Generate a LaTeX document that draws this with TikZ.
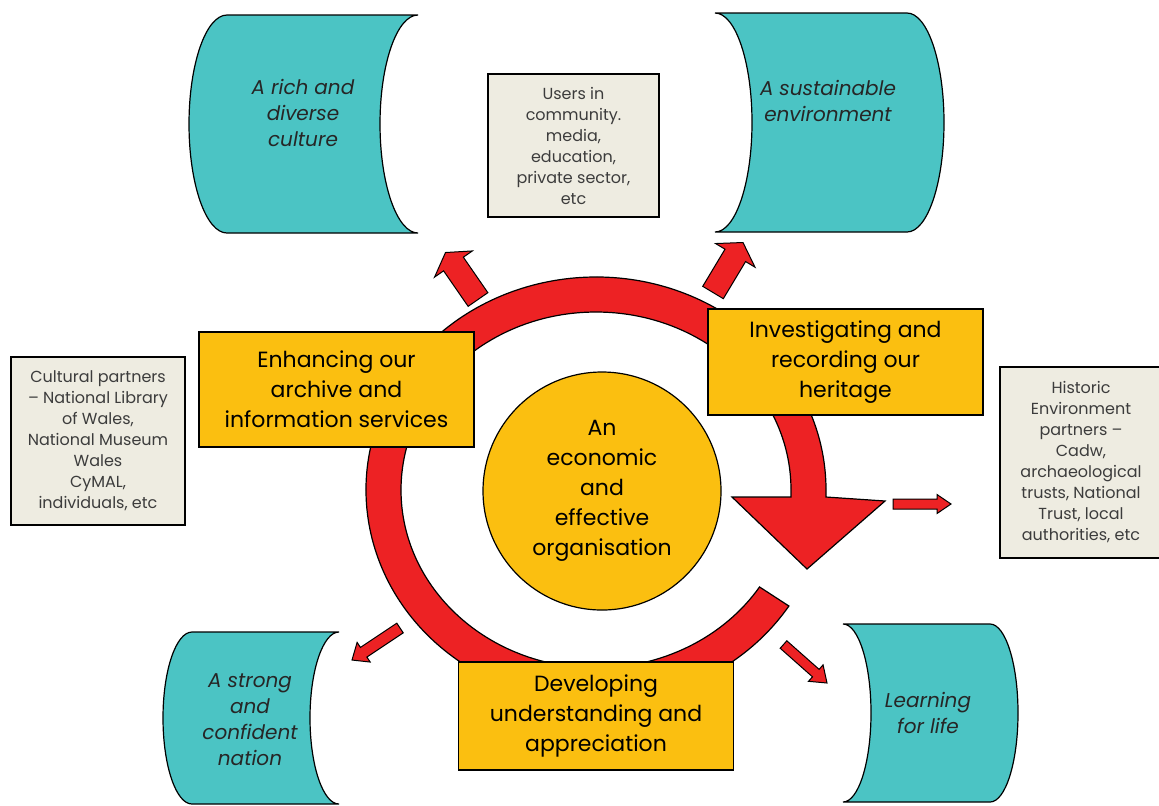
\documentclass[tikz,border=0pt]{standalone}
\usepackage{fontspec}
\setmainfont{Poppins}
\usetikzlibrary{calc}
\definecolor{scrollteal}{RGB}{75,196,196}
\definecolor{boxyellow}{RGB}{251,191,16}
\definecolor{ringred}{RGB}{237,34,36}
\definecolor{notegrey}{RGB}{238,236,225}
\definecolor{notetext}{RGB}{60,60,60}
\tikzset{
    ring/.style = {draw=black, line width=0.6pt, fill=ringred, line join=miter},
    redarrow/.style = {draw=black, line width=0.5pt, fill=ringred, line join=miter},
    scroll/.style = {draw=black, line width=0.6pt, fill=scrollteal},
    scrolltext/.style = {align=center, text=black!85, font=\itshape\fontsize{10}{13}\selectfont},
    theme/.style = {rectangle, draw=black, line width=0.6pt, fill=boxyellow, minimum width=137.5pt, align=center, font=\fontsize{11}{15}\selectfont},
    hub/.style = {circle, draw=black, line width=0.6pt, fill=boxyellow, minimum size=119pt, inner sep=0pt, align=center, font=\fontsize{11}{15}\selectfont},
    partner/.style = {rectangle, draw=black, line width=0.6pt, fill=notegrey, text=notetext, align=center, inner sep=0pt, font=\fontsize{8}{10.5}\selectfont}
}
% block arrow: shaft half width, head half width, head length, tail, tip
\newcommand{\blockarrow}[5]{%
  \coordinate (hb) at ($(#5)!#3!(#4)$);
  \draw[redarrow] ($(#4)!#1!90:(#5)$) -- ($(hb)!#1!-90:(#4)$) -- ($(hb)!#2!-90:(#4)$) -- (#5)
    -- ($(hb)!#2!90:(#4)$) -- ($(hb)!#1!90:(#4)$) -- ($(#4)!#1!-90:(#5)$) -- cycle;
}
\begin{document}
\begin{tikzpicture}[x=0.5pt, y=-0.5pt]
\useasboundingbox (0,0) rectangle (1159,805);
%
% ring with its arrow head
\draw[ring] (596,490) ++(33:230 and 213) arc[start angle=33, end angle=360, x radius=230, y radius=213]
  -- (826,497) -- (885,501) -- (807,569) -- (732,497) -- (791,497) -- (791,490)
  arc[start angle=360, end angle=33, x radius=195, y radius=178] -- cycle;
%
% small arrows
\coordinate (culture tail) at (478,299.5);
\coordinate (culture tip) at (445.5,252.5);
\coordinate (environment tail) at (713,292.5);
\coordinate (environment tip) at (743,242.5);
\coordinate (nation tail) at (400,628);
\coordinate (nation tip) at (352,660);
\coordinate (learning tail) at (783.5,644.5);
\coordinate (learning tip) at (827,683);
\coordinate (historic tail) at (893,504);
\coordinate (historic tip) at (951,504);
\blockarrow{6pt}{11.5pt}{7pt}{culture tail}{culture tip}
\blockarrow{6pt}{11.5pt}{7.5pt}{environment tail}{environment tip}
\blockarrow{2.9pt}{5.9pt}{7pt}{nation tail}{nation tip}
\blockarrow{2.5pt}{5.5pt}{7.5pt}{learning tail}{learning tip}
\blockarrow{2.5pt}{4.75pt}{7pt}{historic tail}{historic tip}
%
% centre and themes
\node[hub] (hub) at (602,491) {An\\economic\\and\\effective\\organisation};
\node[theme, minimum height=57.5pt] (archive) at (336.5,389.5) {Enhancing our\\archive and\\information services};
\node[theme, minimum height=53pt] (heritage) at (845.5,362) {Investigating and\\recording our\\heritage};
\node[theme, minimum height=54pt] (appreciation) at (596,716) {Developing\\understanding and\\appreciation};
%
% outcomes
\draw[scroll] (227,15) -- (418,15) arc[start angle=-90, end angle=-270, x radius=38, y radius=109]
  -- (227,233) arc[start angle=90, end angle=270, x radius=38, y radius=109] -- cycle;
\draw[scroll] (715,13) -- (907,13) arc[start angle=-90, end angle=90, x radius=37, y radius=109.5]
  -- (715,232) arc[start angle=90, end angle=-90, x radius=37, y radius=109.5] -- cycle;
\draw[scroll] (192,632) -- (339,632) arc[start angle=-90, end angle=-270, x radius=29, y radius=86]
  -- (192,804) arc[start angle=90, end angle=270, x radius=29, y radius=86] -- cycle;
\draw[scroll] (843,624) -- (990,624) arc[start angle=-90, end angle=90, x radius=28, y radius=89]
  -- (843,802) arc[start angle=90, end angle=-90, x radius=28, y radius=89] -- cycle;
\node[scrolltext] (culture) at (303,113) {A rich and\\diverse\\culture};
\node[scrolltext] (environment) at (828,101) {A sustainable\\environment};
\node[scrolltext] (nation) at (250,720) {A strong\\and\\confident\\nation};
\node[scrolltext] (learning) at (928,713) {Learning\\for life};
%
% partners
\node[partner, minimum width=85.5pt, minimum height=71.5pt] (users) at (573.5,145.5)
  {Users in\\community.\\media,\\education,\\private sector,\\etc};
\node[partner, minimum width=87pt, minimum height=84pt] (cultural) at (98,441)
  {Cultural partners\\-- National Library\\of Wales,\\National Museum\\Wales\\CyMAL,\\individuals, etc};
\node[partner, minimum width=81pt, minimum height=95.5pt] (historic) at (1081,462.5)
  {Historic\\Environment\\partners --\\Cadw,\\archaeological\\trusts, National\\Trust, local\\authorities, etc};
\end{tikzpicture}
\end{document}
